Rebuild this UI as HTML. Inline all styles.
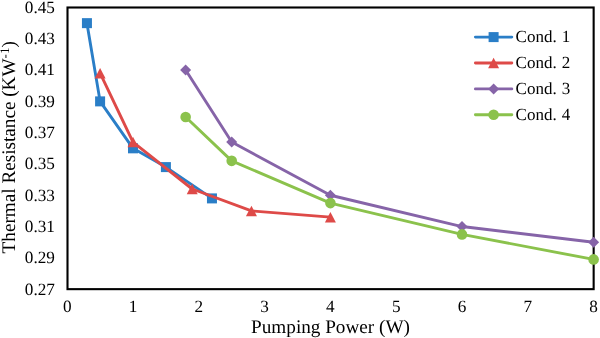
<!DOCTYPE html>
<html><head><meta charset="utf-8"><style>
html,body{margin:0;padding:0;background:#fff;width:600px;height:338px;overflow:hidden}
svg{display:block;will-change:transform;text-rendering:geometricPrecision}
.t{font-family:"Liberation Serif",serif;font-size:17.2px;fill:#000}
.t2{font-family:"Liberation Serif",serif;font-size:19.2px;fill:#000}
</style></head><body>
<svg width="600" height="338" viewBox="0 0 600 338">
<rect x="67.50" y="7.50" width="526.15" height="281.65" fill="none" stroke="#000" stroke-width="2.1"/>
<text x="54.95" y="294.55" text-anchor="end" class="t">0.27</text>
<text x="54.95" y="263.26" text-anchor="end" class="t">0.29</text>
<text x="54.95" y="231.96" text-anchor="end" class="t">0.31</text>
<text x="54.95" y="200.67" text-anchor="end" class="t">0.33</text>
<text x="54.95" y="169.37" text-anchor="end" class="t">0.35</text>
<text x="54.95" y="138.08" text-anchor="end" class="t">0.37</text>
<text x="54.95" y="106.78" text-anchor="end" class="t">0.39</text>
<text x="54.95" y="75.49" text-anchor="end" class="t">0.41</text>
<text x="54.95" y="44.19" text-anchor="end" class="t">0.43</text>
<text x="54.95" y="12.90" text-anchor="end" class="t">0.45</text>
<text x="67.20" y="312.2" text-anchor="middle" class="t">0</text>
<text x="133.00" y="312.2" text-anchor="middle" class="t">1</text>
<text x="198.80" y="312.2" text-anchor="middle" class="t">2</text>
<text x="264.60" y="312.2" text-anchor="middle" class="t">3</text>
<text x="330.40" y="312.2" text-anchor="middle" class="t">4</text>
<text x="396.20" y="312.2" text-anchor="middle" class="t">5</text>
<text x="462.00" y="312.2" text-anchor="middle" class="t">6</text>
<text x="527.80" y="312.2" text-anchor="middle" class="t">7</text>
<text x="593.60" y="312.2" text-anchor="middle" class="t">8</text>
<text x="330.5" y="332.5" text-anchor="middle" class="t2">Pumping Power (W)</text>
<text transform="translate(14.8,147.3) rotate(-90)" text-anchor="middle" class="t2">Thermal Resistance (KW<tspan dy="-6" font-size="13">-1</tspan><tspan dy="6">)</tspan></text>
<polyline points="86.94,23.15 100.10,101.38 133.00,148.33 165.90,167.10 211.96,198.40" fill="none" stroke="#2A7EC7" stroke-width="2.9" stroke-linejoin="round" stroke-linecap="round"/>
<rect x="81.94" y="18.15" width="10.00" height="10.00" fill="#2A7EC7"/>
<rect x="95.10" y="96.38" width="10.00" height="10.00" fill="#2A7EC7"/>
<rect x="128.00" y="143.33" width="10.00" height="10.00" fill="#2A7EC7"/>
<rect x="160.90" y="162.10" width="10.00" height="10.00" fill="#2A7EC7"/>
<rect x="206.96" y="193.40" width="10.00" height="10.00" fill="#2A7EC7"/>
<polyline points="100.10,73.22 133.00,142.07 192.22,189.01 251.44,210.91 330.40,217.17" fill="none" stroke="#DE4A48" stroke-width="2.9" stroke-linejoin="round" stroke-linecap="round"/>
<polygon points="100.10,67.97 105.60,78.47 94.60,78.47" fill="#DE4A48"/>
<polygon points="133.00,136.82 138.50,147.32 127.50,147.32" fill="#DE4A48"/>
<polygon points="192.22,183.76 197.72,194.26 186.72,194.26" fill="#DE4A48"/>
<polygon points="251.44,205.66 256.94,216.16 245.94,216.16" fill="#DE4A48"/>
<polygon points="330.40,211.92 335.90,222.42 324.90,222.42" fill="#DE4A48"/>
<polyline points="185.64,70.09 231.70,142.07 330.40,195.27 462.00,226.56 593.60,242.21" fill="none" stroke="#8664A8" stroke-width="2.9" stroke-linejoin="round" stroke-linecap="round"/>
<polygon points="185.64,64.59 191.14,70.09 185.64,75.59 180.14,70.09" fill="#8664A8"/>
<polygon points="231.70,136.57 237.20,142.07 231.70,147.57 226.20,142.07" fill="#8664A8"/>
<polygon points="330.40,189.77 335.90,195.27 330.40,200.77 324.90,195.27" fill="#8664A8"/>
<polygon points="462.00,221.06 467.50,226.56 462.00,232.06 456.50,226.56" fill="#8664A8"/>
<polygon points="593.60,236.71 599.10,242.21 593.60,247.71 588.10,242.21" fill="#8664A8"/>
<polyline points="185.64,117.03 231.70,160.84 330.40,203.09 462.00,234.38 593.60,259.42" fill="none" stroke="#8BC24C" stroke-width="2.9" stroke-linejoin="round" stroke-linecap="round"/>
<circle cx="185.64" cy="117.03" r="5.30" fill="#8BC24C"/>
<circle cx="231.70" cy="160.84" r="5.30" fill="#8BC24C"/>
<circle cx="330.40" cy="203.09" r="5.30" fill="#8BC24C"/>
<circle cx="462.00" cy="234.38" r="5.30" fill="#8BC24C"/>
<circle cx="593.60" cy="259.42" r="5.30" fill="#8BC24C"/>
<line x1="475.4" y1="37.10" x2="511.8" y2="37.10" stroke="#2A7EC7" stroke-width="2.9" stroke-linecap="round"/>
<rect x="488.60" y="32.10" width="10.00" height="10.00" fill="#2A7EC7"/>
<text x="515.6" y="42.30" class="t" style="font-size:17px;word-spacing:0.9px">Cond. 1</text>
<line x1="475.4" y1="63.00" x2="511.8" y2="63.00" stroke="#DE4A48" stroke-width="2.9" stroke-linecap="round"/>
<polygon points="493.60,57.75 499.10,68.25 488.10,68.25" fill="#DE4A48"/>
<text x="515.6" y="68.20" class="t" style="font-size:17px;word-spacing:0.9px">Cond. 2</text>
<line x1="475.4" y1="88.90" x2="511.8" y2="88.90" stroke="#8664A8" stroke-width="2.9" stroke-linecap="round"/>
<polygon points="493.60,83.40 499.10,88.90 493.60,94.40 488.10,88.90" fill="#8664A8"/>
<text x="515.6" y="94.10" class="t" style="font-size:17px;word-spacing:0.9px">Cond. 3</text>
<line x1="475.4" y1="114.80" x2="511.8" y2="114.80" stroke="#8BC24C" stroke-width="2.9" stroke-linecap="round"/>
<circle cx="493.60" cy="114.80" r="5.30" fill="#8BC24C"/>
<text x="515.6" y="120.00" class="t" style="font-size:17px;word-spacing:0.9px">Cond. 4</text>
</svg></body></html>
